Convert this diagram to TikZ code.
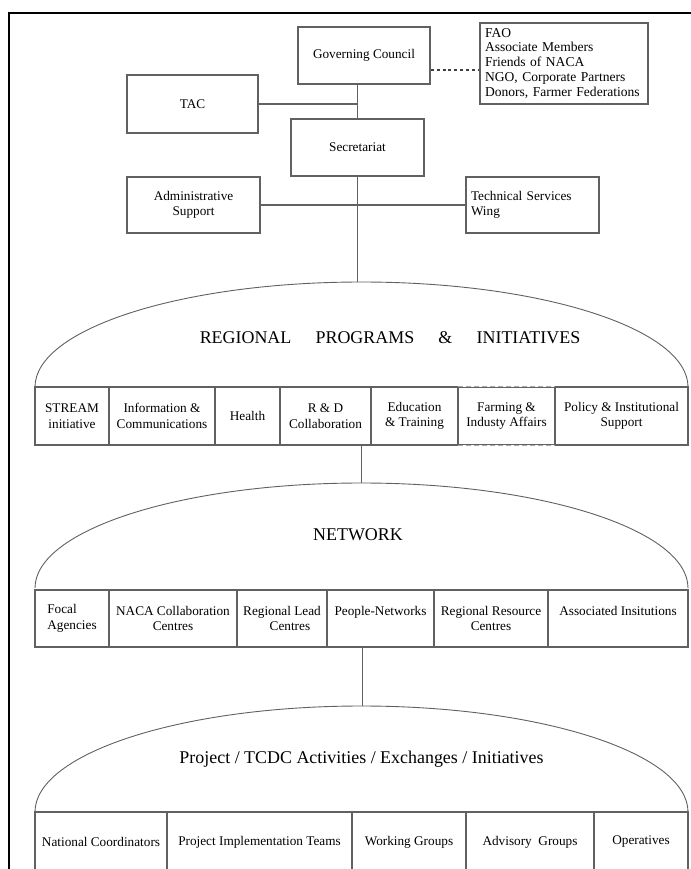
\documentclass[tikz,border=0pt]{standalone}
\usepackage{fontspec}
\setmainfont{Liberation Serif}
\begin{document}
\begin{tikzpicture}[x=1bp,y=-1bp,
  every node/.style={font=\fontsize{13.3}{15.5}\selectfont, inner sep=0pt, align=center},
  ln/.style={draw=black!62, line width=1.1bp},
  bx/.style={ln, minimum width=#1, minimum height=57bp},
  cellA/.style={ln, minimum width=#1, minimum height=58bp},
  cellB/.style={ln, minimum width=#1, minimum height=57bp},
  cellC/.style={ln, minimum width=#1, minimum height=60bp},
  ttl/.style={font=\fontsize{18}{20}\selectfont},
  frame/.style={draw=black, line width=2.5bp}]
\useasboundingbox (0,0) rectangle (691,869);
\fill[white] (0,0) rectangle (691,869);
\draw[frame] (9,869) -- (9,13) -- (691,13);

% top boxes
\node[bx=132bp] (gc) at (364,55.5) {Governing Council};
\node[ln, minimum width=168bp, minimum height=81bp, text width=158bp, align=left,
      font=\fontsize{13.6}{15}\selectfont] (fao) at (564,63.5)
  {FAO\\Associate Members\\Friends of NACA\\NGO, Corporate Partners\\Donors, Farmer Federations};
\node[ln, minimum width=131bp, minimum height=58bp] (tac) at (192.5,104) {TAC};
\node[bx=133bp] (sec) at (357.5,147.5) {Secretariat};
\node[ln, minimum width=133bp, minimum height=56bp] (adm) at (193.5,205) {Administrative\\Support};
\node[ln, minimum width=133bp, minimum height=56bp, text width=123bp, align=left] (tech) at (532.5,205) {Technical Services\\Wing};

\coordinate (dA) at ([yshift=-14.5bp]gc.east);
\draw[ln, draw=black!75, dashed] (dA) -- (dA -| fao.west);
\draw[ln] (gc.south -| sec.north) -- (sec.north);
\draw[ln] (tac.east) -- (tac.east -| sec.north);
\draw[ln] (adm.east) -- (tech.west);

% dome 1
\coordinate (d1top) at (361.5,282);
\draw[ln, line width=0.9bp] (35,387) arc[start angle=180, end angle=0, x radius=326.5bp, y radius=105bp];
\draw[ln] (sec.south) -- (sec.south |- d1top);
\node[ttl] (t1) at (390,338) {REGIONAL\hspace{1.35em}PROGRAMS\hspace{1.35em}\&\hspace{1.35em}INITIATIVES};
\node[cellA=74bp]  (r1a) at (72,416)    {STREAM\\initiative};
\node[cellA=106bp] (r1b) at (162,416)   {Information \&\\Communications};
\node[cellA=65bp]  (r1c) at (247.5,416) {Health};
\node[cellA=91bp]  (r1d) at (325.5,416) {R \& D\\Collaboration};
\node[cellA=87bp]  (r1e) at (414.5,416) {Education\\\& Training};
\node[cellA=97bp]  (r1f) at (506.5,416) {Farming \&\\Industy Affairs};
\node[cellA=133bp] (r1g) at (621.5,416) {Policy \& Institutional\\Support};
\draw[white, line width=1.6bp] ([xshift=1bp]r1f.north west) -- ([xshift=-1bp]r1f.north east);
\draw[white, line width=1.6bp] ([xshift=1bp]r1f.south west) -- ([xshift=-1bp]r1f.south east);
\draw[black!35, line width=1.1bp, dash pattern=on 5bp off 3bp] ([xshift=1bp]r1f.north west) -- ([xshift=-1bp]r1f.north east);
\draw[black!35, line width=1.1bp, dash pattern=on 5bp off 3bp] ([xshift=1bp]r1f.south west) -- ([xshift=-1bp]r1f.south east);

% dome 2
\coordinate (d2top) at (361.5,483);
\draw[ln, line width=0.9bp] (35,588) arc[start angle=180, end angle=0, x radius=326.5bp, y radius=105bp];
\draw[ln] (r1d.south -| d2top) -- (d2top);
\node[ttl] (t2) at (358,535) {NETWORK};
\node[cellB=74bp, align=left] (r2a) at (72,618.5)  {Focal\\Agencies};
\node[cellB=128bp] (r2b) at (173,618.5)   {NACA Collaboration\\Centres};
\node[cellB=90bp]  (r2c) at (282,618.5)   {Regional Lead\\\hspace{1.2em}Centres};
\node[cellB=107bp] (r2d) at (380.5,618.5) {People-Networks\\~};
\node[cellB=114bp] (r2e) at (491,618.5)   {Regional Resource\\Centres};
\node[cellB=140bp] (r2f) at (618,618.5)   {Associated Insitutions\\~};

% dome 3
\coordinate (d3top) at (362.5,706);
\draw[ln, line width=0.9bp] (35,812) arc[start angle=180, end angle=0, x radius=326.5bp, y radius=106bp];
\draw[ln] (r2d.south -| d3top) -- (d3top);
\node[ttl] (t3) at (361.5,759) {Project / TCDC Activities / Exchanges / Initiatives};
\node[cellC=132bp] (r3a) at (101,842)   {National Coordinators};
\node[cellC=185bp] (r3b) at (259.5,842) {Project Implementation Teams};
\node[cellC=114bp] (r3c) at (409,842)   {Working Groups};
\node[cellC=128bp] (r3d) at (530,842)   {Advisory\ \ Groups};
\node[cellC=94bp]  (r3e) at (641,842)   {Operatives};
\end{tikzpicture}
\end{document}
